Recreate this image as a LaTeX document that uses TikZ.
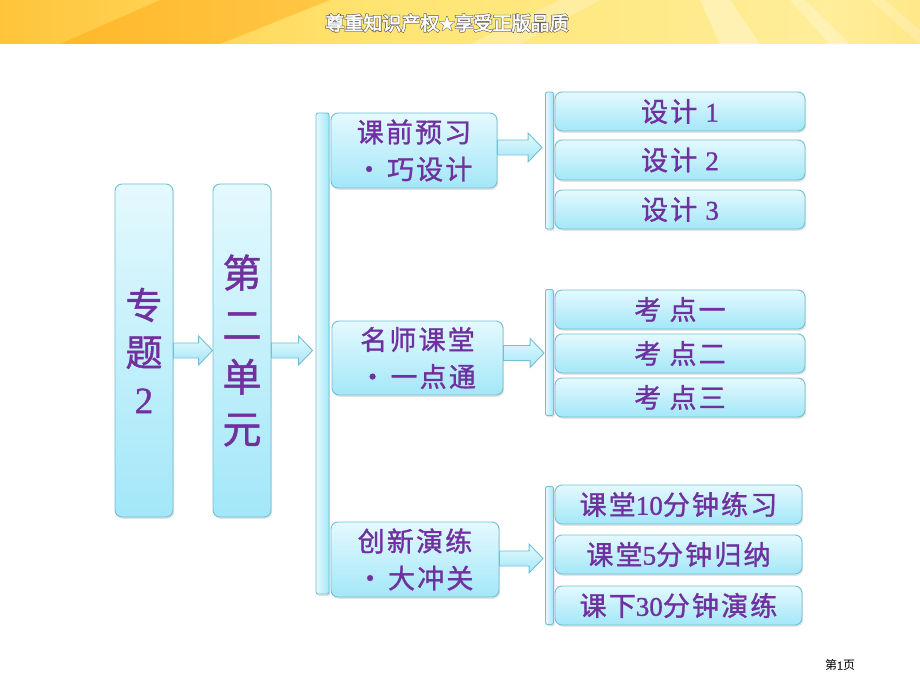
\documentclass[tikz,border=0pt]{standalone}
\usepackage{fontspec}
\setmainfont{Liberation Serif}
\newfontfamily\cjk[FakeBold=1.2]{Noto Sans CJK SC}
\newfontfamily\cjksp[FakeBold=1.2,LetterSpace=8]{Noto Sans CJK SC}
\newfontfamily\cjkplain{Noto Sans CJK SC}
\newfontfamily\cjkhalo[FakeBold=9]{Noto Sans CJK SC}
\newfontfamily\cjkwhite[FakeBold=2.5]{Noto Sans CJK SC}
\newfontfamily\lat[FakeBold=1]{Liberation Serif}
\usetikzlibrary{calc,shadows}
\definecolor{boxtop}{HTML}{E4F9FE}
\definecolor{boxbot}{HTML}{A3E7F8}
\definecolor{bd}{HTML}{74BFD3}
\definecolor{txt}{HTML}{7030A0}
\definecolor{hA}{HTML}{FF9800}
\definecolor{hB}{HTML}{FFC43A}
\definecolor{hC}{HTML}{FFE470}
\definecolor{hD}{HTML}{FFEE9A}
\definecolor{hE}{HTML}{FFC733}
\pgfdeclarehorizontalshading{hdr}{100bp}{color(0bp)=(hA); color(25bp)=(hB); color(45bp)=(hC); color(70bp)=(hD); color(100bp)=(hE)}
\newcommand\fatarr[2]{%
  \path[arrowfill] let \p1=(#1), \p2=(#2) in
    (\x1,\y1+7.5bp) -- (\x2-14bp,\y1+7.5bp) -- (\x2-14bp,\y1+14.5bp) -- (\x2,\y1)
    -- (\x2-14bp,\y1-14.5bp) -- (\x2-14bp,\y1-7.5bp) -- (\x1,\y1-7.5bp) -- cycle;}
\newcommand\hdrline{尊重知识产权\raisebox{1bp}{\scalebox{0.8}{★}}享受正版品质}
\begin{document}
\begin{tikzpicture}[x=1bp,y=-1bp,
  box/.style={draw=bd, line width=0.9bp, rounded corners=7bp, top color=boxtop, bottom color=boxbot,
    inner sep=0pt, text=txt, align=center,
    drop shadow={opacity=0.22, shadow xshift=1.2bp, shadow yshift=-1.8bp}},
  barbox/.style={draw=bd, line width=0.9bp, rounded corners=2bp, left color=boxtop, right color=boxbot,
    inner sep=0pt, drop shadow={opacity=0.22, shadow xshift=1.2bp, shadow yshift=-1.8bp}},
  arrowfill/.style={draw=bd, line width=0.9bp, top color=boxtop, bottom color=boxbot},
  bigtxt/.style={font=\cjk\fontsize{37bp}{47bp}\selectfont},
  midtxt/.style={font=\cjksp\fontsize{27bp}{37bp}\selectfont},
  smalltxt/.style={font=\cjksp\fontsize{27bp}{30bp}\selectfont}]
\useasboundingbox (0,0) rectangle (920,690);
\fill[white] (0,0) rectangle (920,690);
% header band
\shade[shading=hdr] (0,0) rectangle (920,44);
\fill[white,opacity=0.25] (560,0) -- (600,0) -- (520,44) -- (470,44) -- cycle;
\fill[white,opacity=0.3] (700,0) -- (730,0) -- (760,44) -- (720,44) -- cycle;
\fill[white,opacity=0.25] (790,0) -- (805,0) -- (850,44) -- (830,44) -- cycle;
\fill[white,opacity=0.2] (870,0) -- (885,0) -- (920,30) -- (920,44) -- cycle;
\fill[hA,opacity=0.35] (160,0) -- (330,0) -- (220,44) -- (60,44) -- cycle;
\node (hdrhalo) [text=black!62, font=\cjkhalo\fontsize{19bp}{19bp}\selectfont] at (447,23) {\hdrline};
\node (hdrtext) [text=white, font=\cjkwhite\fontsize{19bp}{19bp}\selectfont] at (447,23) {\hdrline};
% first level
\node (t) [box, bigtxt, minimum width=58bp, minimum height=333bp] at (144,350.5)
  {专\\题\\{\lat 2}};
\node (u) [box, minimum width=58bp, minimum height=333bp, font=\cjk\fontsize{39bp}{52bp}\selectfont] at (242,350.5)
  {第\\二\\单\\元};
% long bar
\node (bar0) [barbox, minimum width=13bp, minimum height=481bp] at (322.5,353.5) {};
% middle boxes
\node (m1) [box, midtxt, minimum width=166bp, minimum height=75bp] at (414,150.5) {课前预习\\·\,巧设计};
\node (m2) [box, midtxt, minimum width=171bp, minimum height=74bp] at (417.5,358) {名师课堂\\·\,一点通};
\node (m3) [box, midtxt, minimum width=168bp, minimum height=75bp] at (415,559.5) {创新演练\\·\,大冲关};
% small bars
\node (bar1) [barbox, minimum width=8bp, minimum height=137bp] at (549.5,160.5) {};
\node (bar2) [barbox, minimum width=8bp, minimum height=126bp] at (549.5,352.5) {};
\node (bar3) [barbox, minimum width=8bp, minimum height=138bp] at (549.5,555.5) {};
% right boxes
\node (r11) [box, smalltxt, minimum width=250bp, minimum height=39bp] at (680,111.5) {设计\ {\lat 1}};
\node (r12) [box, smalltxt, minimum width=250bp, minimum height=40bp] at (680,160) {设计\ {\lat 2}};
\node (r13) [box, smalltxt, minimum width=250bp, minimum height=39bp] at (680,209.5) {设计\ {\lat 3}};
\node (r21) [box, smalltxt, minimum width=250bp, minimum height=39bp] at (680,309.5) {考\ 点一};
\node (r22) [box, smalltxt, minimum width=250bp, minimum height=39bp] at (680,353.5) {考\ 点二};
\node (r23) [box, smalltxt, minimum width=250bp, minimum height=39bp] at (680,397.5) {考\ 点三};
\node (r31) [box, smalltxt, minimum width=247bp, minimum height=39bp] at (678.5,504.5) {课堂{\lat 10}分钟练习};
\node (r32) [box, smalltxt, minimum width=247bp, minimum height=39bp] at (678.5,554.5) {课堂{\lat 5}分钟归纳};
\node (r33) [box, smalltxt, minimum width=247bp, minimum height=39bp] at (678.5,605.5) {课下{\lat 30}分钟演练};
% arrows
\fatarr{t.east}{u.west}
\fatarr{u.east}{$(bar0.west |- u.east)+(-3,0)$}
\fatarr{$(m1.east)+(0,-3)$}{$(bar1.west |- m1.east)+(-3,-3)$}
\fatarr{$(m2.east)+(0,-5)$}{$(bar2.west |- m2.east)+(-1,-5)$}
\fatarr{$(m3.east)+(0,-1)$}{$(bar3.west |- m3.east)+(-2,-1)$}
% page label
\node (pg) [font=\cjkplain\fontsize{12bp}{12bp}\selectfont, text=black] at (840,665) {第{\lat 1}页};
\end{tikzpicture}
\end{document}
